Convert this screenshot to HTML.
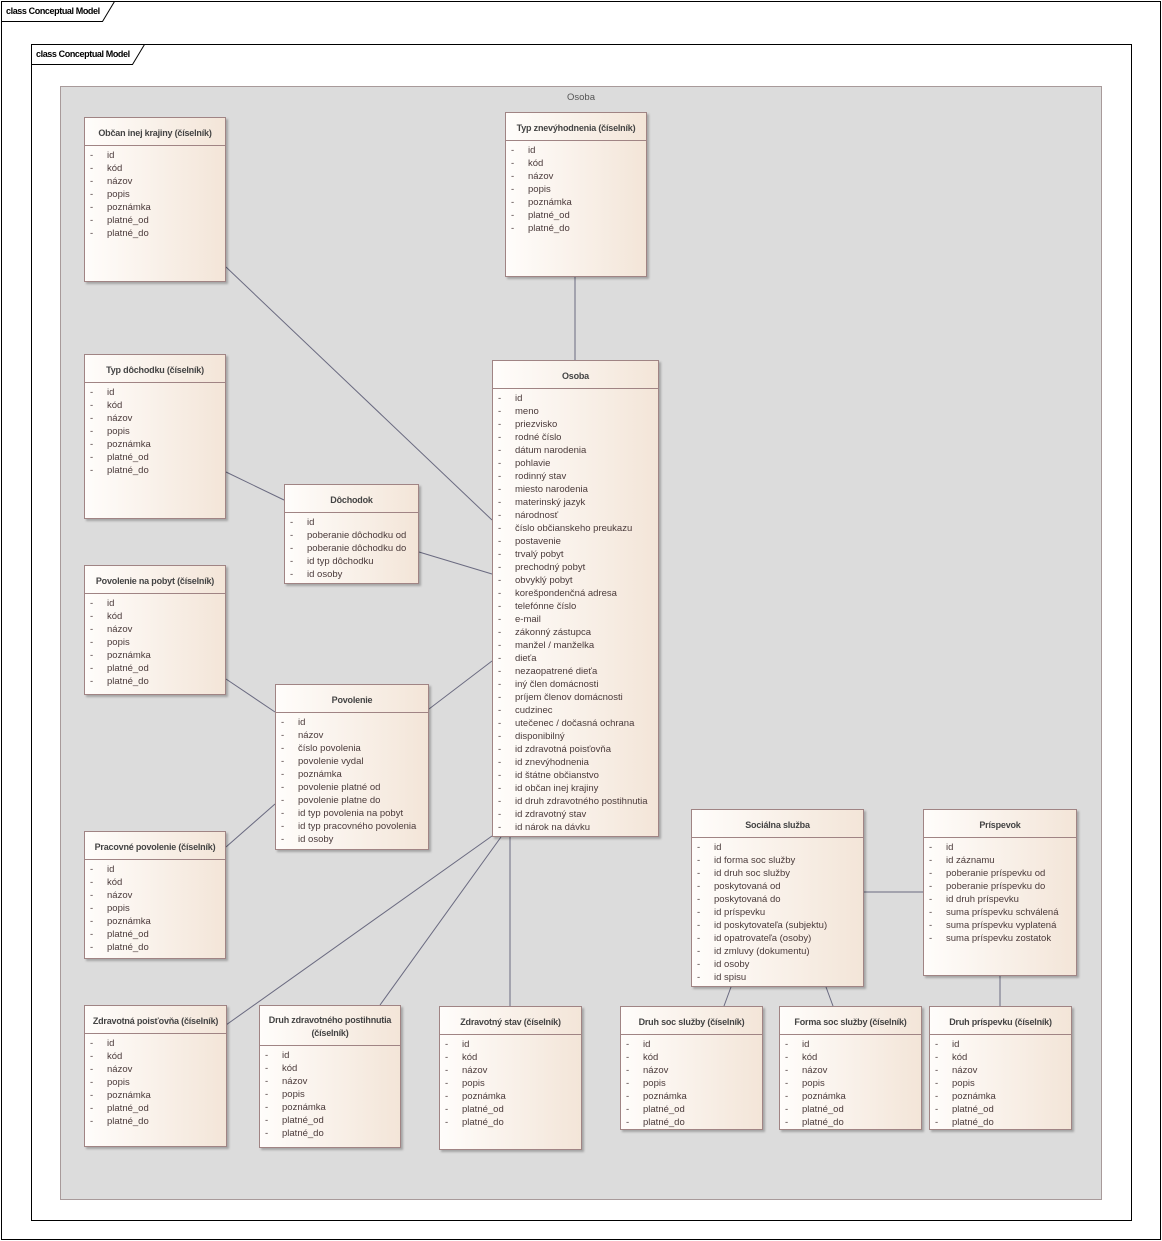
<!DOCTYPE html>
<html><head><meta charset="utf-8">
<style>
*{margin:0;padding:0;box-sizing:border-box}
body{width:1162px;height:1241px;background:#fff;position:relative;font-family:"Liberation Sans",sans-serif;overflow:hidden}
.f{position:absolute;border:1px solid #000}
.tl{position:absolute;left:4px;top:4px;font-size:9px;font-weight:bold;letter-spacing:-0.4px}
.pk{position:absolute;left:60px;top:86px;width:1042px;height:1114px;background:#dcdcdc;border:1px solid #a89a9a}
.pk span{position:absolute;top:5px;width:100%;text-align:center;font-size:9.5px;color:#555}
.b{position:absolute;border:1px solid #a08484;background:linear-gradient(to right,#fffdfb,#f3e5d8);box-shadow:2px 2px 2px rgba(0,0,0,0.25);font-size:9.5px;color:#4a3a3a}
.h{border-bottom:1px solid #a08484;display:flex;align-items:center;justify-content:center;text-align:center;font-weight:bold;color:#444;line-height:13px;font-size:9px;letter-spacing:-0.2px;padding-top:3px}
.a{padding-top:3px}
.a div{position:relative;height:13px;line-height:13px;padding-left:22px;white-space:nowrap}
.a div:before{content:"-";position:absolute;left:5px}
svg{position:absolute;left:0;top:0}
</style></head><body>
<div class="f" style="left:1px;top:1px;width:1160px;height:1239px"><div class="tl">class Conceptual Model</div></div>
<div class="f" style="left:31px;top:44px;width:1101px;height:1177px"><div class="tl">class Conceptual Model</div></div>
<div class="pk"><span>Osoba</span></div>
<svg width="1162" height="1241"><g stroke="#000" stroke-width="1" fill="none">
<polyline points="1.5,21.5 102.5,21.5 114.5,1.5"/>
<polyline points="31.5,64.5 132.5,64.5 144.5,44.5"/>
</g><g stroke="#6a6a80" stroke-width="1" fill="none">
<line x1="226" y1="267" x2="492" y2="520"/>
<line x1="575" y1="277" x2="575" y2="360"/>
<line x1="226" y1="472" x2="284" y2="500"/>
<line x1="419" y1="552" x2="492" y2="574"/>
<line x1="226" y1="679" x2="275" y2="712"/>
<line x1="429" y1="709" x2="492" y2="661"/>
<line x1="226" y1="847" x2="275" y2="804"/>
<line x1="226" y1="1025" x2="492" y2="836"/>
<line x1="380" y1="1005" x2="501" y2="837"/>
<line x1="510" y1="1006" x2="510" y2="837"/>
<line x1="864" y1="892" x2="923" y2="892"/>
<line x1="731" y1="987" x2="724" y2="1006"/>
<line x1="826" y1="987" x2="833" y2="1006"/>
<line x1="1000" y1="976" x2="1000" y2="1006"/>
</g></svg>

<div class="b" style="left:84px;top:117px;width:142px;height:165px"><div class="h" style="height:28px">Občan inej krajiny (číselník)</div><div class="a"><div>id</div><div>kód</div><div>názov</div><div>popis</div><div>poznámka</div><div>platné_od</div><div>platné_do</div></div></div>

<div class="b" style="left:505px;top:112px;width:142px;height:165px"><div class="h" style="height:28px">Typ znevýhodnenia (číselník)</div><div class="a"><div>id</div><div>kód</div><div>názov</div><div>popis</div><div>poznámka</div><div>platné_od</div><div>platné_do</div></div></div>

<div class="b" style="left:84px;top:354px;width:142px;height:165px"><div class="h" style="height:28px">Typ dôchodku (číselník)</div><div class="a"><div>id</div><div>kód</div><div>názov</div><div>popis</div><div>poznámka</div><div>platné_od</div><div>platné_do</div></div></div>

<div class="b" style="left:284px;top:484px;width:135px;height:100px"><div class="h" style="height:28px">Dôchodok</div><div class="a"><div>id</div><div>poberanie dôchodku od</div><div>poberanie dôchodku do</div><div>id typ dôchodku</div><div>id osoby</div></div></div>

<div class="b" style="left:84px;top:565px;width:142px;height:130px"><div class="h" style="height:28px">Povolenie na pobyt (číselník)</div><div class="a"><div>id</div><div>kód</div><div>názov</div><div>popis</div><div>poznámka</div><div>platné_od</div><div>platné_do</div></div></div>

<div class="b" style="left:275px;top:684px;width:154px;height:166px"><div class="h" style="height:28px">Povolenie</div><div class="a"><div>id</div><div>názov</div><div>číslo povolenia</div><div>povolenie vydal</div><div>poznámka</div><div>povolenie platné od</div><div>povolenie platne do</div><div>id typ povolenia na pobyt</div><div>id typ pracovného povolenia</div><div>id osoby</div></div></div>

<div class="b" style="left:84px;top:831px;width:142px;height:128px"><div class="h" style="height:28px">Pracovné povolenie (číselník)</div><div class="a"><div>id</div><div>kód</div><div>názov</div><div>popis</div><div>poznámka</div><div>platné_od</div><div>platné_do</div></div></div>

<div class="b" style="left:492px;top:360px;width:167px;height:477px"><div class="h" style="height:28px">Osoba</div><div class="a"><div>id</div><div>meno</div><div>priezvisko</div><div>rodné číslo</div><div>dátum narodenia</div><div>pohlavie</div><div>rodinný stav</div><div>miesto narodenia</div><div>materinský jazyk</div><div>národnosť</div><div>číslo občianskeho preukazu</div><div>postavenie</div><div>trvalý pobyt</div><div>prechodný pobyt</div><div>obvyklý pobyt</div><div>korešpondenčná adresa</div><div>telefónne číslo</div><div>e-mail</div><div>zákonný zástupca</div><div>manžel / manželka</div><div>dieťa</div><div>nezaopatrené dieťa</div><div>iný člen domácnosti</div><div>príjem členov domácnosti</div><div>cudzinec</div><div>utečenec / dočasná ochrana</div><div>disponibilný</div><div>id zdravotná poisťovňa</div><div>id znevýhodnenia</div><div>id štátne občianstvo</div><div>id občan inej krajiny</div><div>id druh zdravotného postihnutia</div><div>id zdravotný stav</div><div>id nárok na dávku</div></div></div>

<div class="b" style="left:691px;top:809px;width:173px;height:178px"><div class="h" style="height:28px">Sociálna služba</div><div class="a"><div>id</div><div>id forma soc služby</div><div>id druh soc služby</div><div>poskytovaná od</div><div>poskytovaná do</div><div>id príspevku</div><div>id poskytovateľa (subjektu)</div><div>id opatrovateľa (osoby)</div><div>id zmluvy (dokumentu)</div><div>id osoby</div><div>id spisu</div></div></div>

<div class="b" style="left:923px;top:809px;width:154px;height:167px"><div class="h" style="height:28px">Príspevok</div><div class="a"><div>id</div><div>id záznamu</div><div>poberanie príspevku od</div><div>poberanie príspevku do</div><div>id druh príspevku</div><div>suma príspevku schválená</div><div>suma príspevku vyplatená</div><div>suma príspevku zostatok</div></div></div>

<div class="b" style="left:84px;top:1005px;width:143px;height:142px"><div class="h" style="height:28px">Zdravotná poisťovňa (číselník)</div><div class="a"><div>id</div><div>kód</div><div>názov</div><div>popis</div><div>poznámka</div><div>platné_od</div><div>platné_do</div></div></div>

<div class="b" style="left:259px;top:1005px;width:142px;height:143px"><div class="h" style="height:40px">Druh zdravotného postihnutia<br>(číselník)</div><div class="a"><div>id</div><div>kód</div><div>názov</div><div>popis</div><div>poznámka</div><div>platné_od</div><div>platné_do</div></div></div>

<div class="b" style="left:439px;top:1006px;width:143px;height:144px"><div class="h" style="height:28px">Zdravotný stav (číselník)</div><div class="a"><div>id</div><div>kód</div><div>názov</div><div>popis</div><div>poznámka</div><div>platné_od</div><div>platné_do</div></div></div>

<div class="b" style="left:620px;top:1006px;width:143px;height:124px"><div class="h" style="height:28px">Druh soc služby (číselník)</div><div class="a"><div>id</div><div>kód</div><div>názov</div><div>popis</div><div>poznámka</div><div>platné_od</div><div>platné_do</div></div></div>

<div class="b" style="left:779px;top:1006px;width:143px;height:124px"><div class="h" style="height:28px">Forma soc služby (číselník)</div><div class="a"><div>id</div><div>kód</div><div>názov</div><div>popis</div><div>poznámka</div><div>platné_od</div><div>platné_do</div></div></div>

<div class="b" style="left:929px;top:1006px;width:143px;height:124px"><div class="h" style="height:28px">Druh príspevku (číselník)</div><div class="a"><div>id</div><div>kód</div><div>názov</div><div>popis</div><div>poznámka</div><div>platné_od</div><div>platné_do</div></div></div>
</body></html>
